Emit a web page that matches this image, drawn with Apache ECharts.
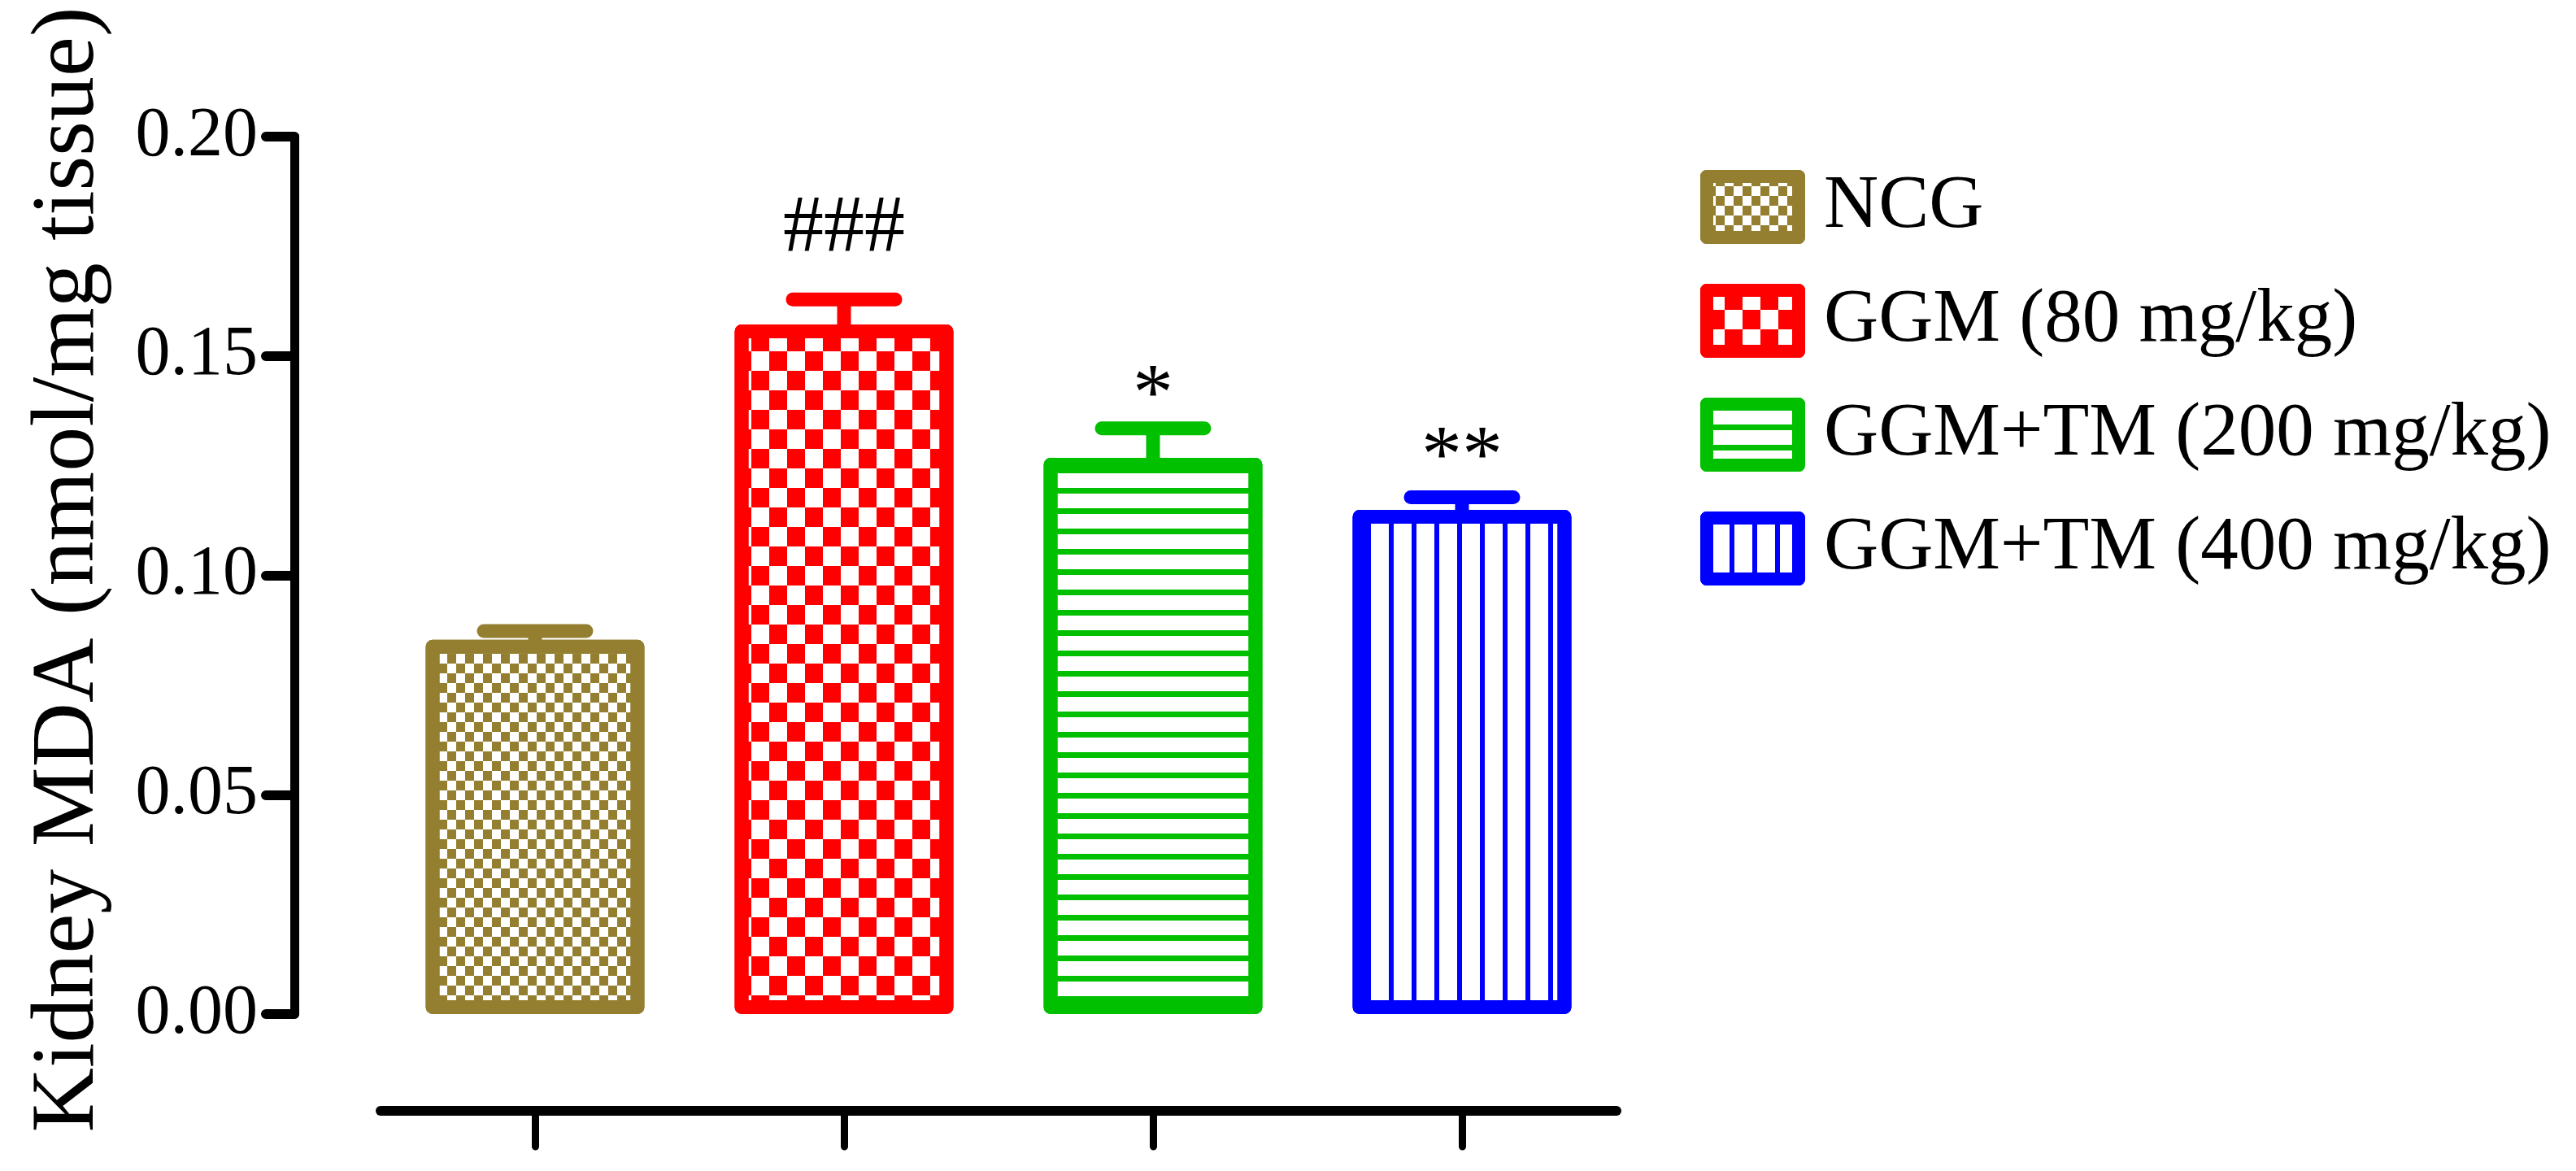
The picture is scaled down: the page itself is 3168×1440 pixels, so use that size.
<!DOCTYPE html>
<html>
<head>
<meta charset="utf-8">
<script src="https://cdn.jsdelivr.net/npm/echarts@6/dist/echarts.min.js"></script>
<style>
html,body{margin:0;padding:0;background:#fff;}
#chart{width:3168px;height:1440px;}
</style>
</head>
<body>
<div id="chart"></div>
<script>
// ---- data ----
const categories = ['NCG', 'GGM (80 mg/kg)', 'GGM+TM (200 mg/kg)', 'GGM+TM (400 mg/kg)'];
const means = [0.0853, 0.1572, 0.1268, 0.1149];
const sems = [0.0020, 0.0057, 0.0067, 0.0029];
const marks = ['', '###', '*', '**'];
const markY = [null, 0.1790, 0.1406, 0.1264];
const yTicks = [0.00, 0.05, 0.10, 0.15, 0.20];
const yTitle = 'Kidney MDA (nmol/mg tissue)';

// ---- styling ----
const colors = ['#947F31', '#FF0000', '#00C000', '#0000FF'];
const FONT = '"Liberation Serif", "Times New Roman", serif';
const decals = [
  { symbol: 'rect', symbolSize: 1, color: colors[0], dashArrayX: [[11, 11], [0, 11, 11, 0]], dashArrayY: [12, 0] },
  { symbol: 'rect', symbolSize: 1, color: colors[1], dashArrayX: [[22, 22], [0, 22, 22, 0]], dashArrayY: [24, 0] },
  { symbol: 'rect', symbolSize: 1, color: colors[2], dashArrayX: [25, 0], dashArrayY: [7, 18] },
  { symbol: 'rect', symbolSize: 1, color: colors[3], dashArrayX: [6, 22], dashArrayY: [28, 0] }
];

const chart = echarts.init(document.getElementById('chart'), null, { renderer: 'canvas' });

const barSeries = categories.map((name, i) => ({
  name: name,
  type: 'bar',
  barWidth: 269,
  barGap: '-100%',
  data: categories.map((c, j) => (j === i ? means[j] : '-')),
  itemStyle: {
    color: '#ffffff',
    borderColor: colors[i],
    borderWidth: 17,
    borderJoin: 'round',
    decal: decals[i]
  },
  emphasis: { disabled: true },
  z: 3
}));

const errSeries = {
  type: 'custom',
  name: 'sem',
  silent: true,
  z: 2,
  data: means.map((m, i) => [i, m, sems[i]]),
  renderItem: function (params, api) {
    const i = params.dataIndex;
    const m = api.value(1);
    const s = api.value(2);
    const p0 = api.coord([i, m]);
    const p1 = api.coord([i, m + s]);
    const children = [
      { type: 'line', shape: { x1: p0[0], y1: p0[1] + 10, x2: p1[0], y2: p1[1] },
        style: { stroke: colors[i], lineWidth: 17 } },
      { type: 'line', shape: { x1: p1[0] - 63, y1: p1[1], x2: p1[0] + 63, y2: p1[1] },
        style: { stroke: colors[i], lineWidth: 17, lineCap: 'round' } }
    ];
    if (marks[i]) {
      const pt = api.coord([i, markY[i]]);
      children.push({
        type: 'text', x: pt[0], y: pt[1],
        style: { text: marks[i], fill: '#000', font: '100px ' + FONT, align: 'center', verticalAlign: 'middle' }
      });
    }
    return { type: 'group', children: children };
  }
};

const option = {
  animation: false,
  backgroundColor: '#ffffff',
  grid: { left: 468, top: 168, width: 1520, height: 1079, containLabel: false },
  legend: {
    data: categories,
    orient: 'vertical',
    left: 2091,
    top: 208,
    padding: 0,
    icon: 'rect',
    itemWidth: 113,
    itemHeight: 75,
    itemGap: 47,
    selectedMode: false,
    itemStyle: { borderWidth: 16, borderJoin: 'round' },
    textStyle: { fontFamily: FONT, fontSize: 93, color: '#000', lineHeight: 91, padding: [0, 0, 0, 26] }
  },
  xAxis: {
    type: 'category',
    data: categories,
    offset: 119,
    axisLine: { show: true, onZero: false, lineStyle: { color: '#000', width: 12, cap: 'round' } },
    axisTick: { show: true, alignWithLabel: true, length: 44, lineStyle: { color: '#000', width: 9, cap: 'round' } },
    axisLabel: { show: false },
    splitLine: { show: false }
  },
  yAxis: {
    type: 'value',
    min: yTicks[0],
    max: yTicks[yTicks.length - 1],
    interval: yTicks[1] - yTicks[0],
    offset: 106,
    name: yTitle,
    nameLocation: 'middle',
    nameRotate: 90,
    nameGap: 222,
    nameTextStyle: { fontFamily: FONT, fontSize: 110, color: '#000', padding: [0, 0, 0, 14] },
    axisLine: { show: true, lineStyle: { color: '#000', width: 11 } },
    axisTick: { show: true, length: 35, lineStyle: { color: '#000', width: 12, cap: 'round' } },
    axisLabel: {
      margin: 45, fontFamily: FONT, fontSize: 86, color: '#000',
      formatter: function (v) { return v.toFixed(2); }
    },
    splitLine: { show: false }
  },
  series: [errSeries].concat(barSeries)
};

chart.setOption(option);
</script>
</body>
</html>
